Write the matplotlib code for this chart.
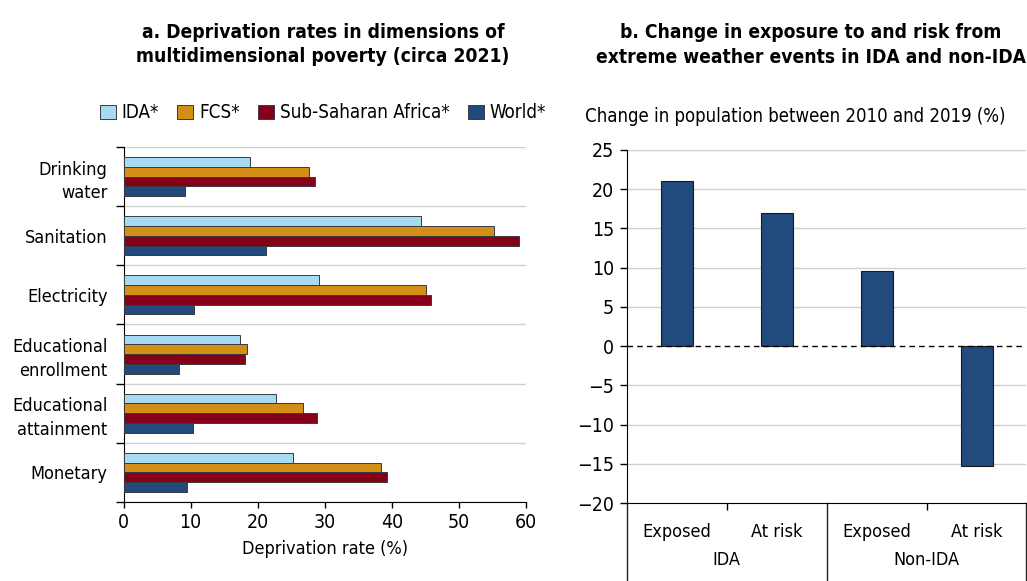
import numpy as np
import matplotlib.pyplot as plt
from matplotlib.patches import Patch
from matplotlib import font_manager

# font stretto se disponibile, altrimenti DejaVu condensed
nomi = {f.name for f in font_manager.fontManager.ttflist}
if 'Liberation Sans Narrow' in nomi:
    plt.rcParams['font.family'] = ['Liberation Sans Narrow', 'DejaVu Sans']
else:
    plt.rcParams['font.family'] = ['DejaVu Sans']
    plt.rcParams['font.stretch'] = 'condensed'

# panel a data
categorie = ['Drinking\nwater', 'Sanitation', 'Electricity',
             'Educational\nenrollment', 'Educational\nattainment', 'Monetary']
ida = [18.9, 44.3, 29.2, 17.4, 22.7, 25.3]
fcs = [27.6, 55.2, 45.1, 18.4, 26.7, 38.3]
ssa = [28.6, 58.9, 45.8, 18.1, 28.8, 39.3]
world = [9.1, 21.2, 10.5, 8.2, 10.3, 9.4]
serie_nomi = ['IDA*', 'FCS*', 'Sub-Saharan Africa*', 'World*']

# panel b data
sotto_cat = ['Exposed', 'At risk', 'Exposed', 'At risk']
gruppi = ['IDA', 'Non-IDA']
variazione = [21.0, 17.0, 9.6, -15.3]

colori = ['#A8D9F3', '#D38E18', '#870019', '#234A7C']
edge = '#3a3a3a'

fig = plt.figure(figsize=(10.27, 5.81), dpi=100)
r = fig.canvas.get_renderer()


def adatta(t, larghezza):
    # scala il font del testo alla larghezza voluta (pixel)
    w = t.get_window_extent(renderer=r).width
    t.set_fontsize(t.get_fontsize() * larghezza / w)


# ---------- panel a ----------
ax1 = fig.add_axes([0.1203, 0.136, 0.392, 0.611])
y = np.arange(len(categorie))
h = 0.165
serie = [ida, fcs, ssa, world]
for k, vals in enumerate(serie):
    ax1.barh(y - 1.5 * h + k * h, vals, height=h, color=colori[k],
             edgecolor=edge, linewidth=0.7, zorder=3)

ax1.set_ylim(len(categorie) - 0.5, -0.5)
ax1.set_xlim(0, 60)
ax1.set_yticks(np.arange(-0.5, len(categorie)), [])
ax1.set_yticks(y, categorie, minor=True)
ax1.tick_params(axis='y', which='minor', length=0, labelsize=13, pad=11.5)
ax1.tick_params(axis='y', which='major', length=5.5, width=1, direction='out')
ax1.set_xticks(np.arange(0, 61, 10))
ax1.tick_params(axis='x', labelsize=14, length=4.5, width=1)
for lab in ax1.get_yticklabels(minor=True):
    lab.set_horizontalalignment('right')
    lab.set_linespacing(1.4)
ax1.grid(axis='y', which='major', color='#d0d0d0', linewidth=1, zorder=0)
ax1.spines['top'].set_visible(False)
ax1.spines['right'].set_visible(False)
ax1.set_xlabel('Deprivation rate (%)', fontsize=13, labelpad=6)

ta = fig.text(323 / 1027, 1 - 44.5 / 581,
              'a. Deprivation rates in dimensions of\nmultidimensional poverty (circa 2021)',
              ha='center', va='center', fontsize=13, fontweight='bold', linespacing=1.35)
adatta(ta, 373)

handles = [Patch(facecolor=colori[k], edgecolor=edge, linewidth=0.7) for k in range(4)]
fig.legend(handles, serie_nomi, loc='center', bbox_to_anchor=(323 / 1027, 1 - 113 / 581),
           ncol=4, frameon=False, fontsize=13.5, handlelength=0.85, handleheight=0.75,
           handletextpad=0.3, columnspacing=1.0, borderpad=0, borderaxespad=0)

# ---------- panel b ----------
ax2 = fig.add_axes([0.6102, 0.134, 0.3893, 0.608])
x = np.arange(len(variazione))
ax2.bar(x, variazione, width=0.32, color=colori[3], edgecolor='#1a1a1a',
        linewidth=0.8, zorder=3)
ax2.set_xlim(-0.5, 3.5)
ax2.set_ylim(-20, 25)
ax2.set_yticks(np.arange(-20, 26, 5))
ax2.set_yticklabels([str(v).replace('-', '\u2212') for v in range(-20, 26, 5)])
ax2.tick_params(axis='y', labelsize=14, length=5, width=1, pad=4)
ax2.set_xticks(x, sotto_cat)
ax2.tick_params(axis='x', labelsize=13, length=0, pad=14)
ax2.set_xticks([0.5, 2.5], minor=True)
ax2.tick_params(axis='x', which='minor', length=5, width=1)
for v in np.arange(-15, 26, 5):
    if v != 0:
        ax2.axhline(v, color='#d0d0d0', linewidth=1, zorder=0)
ax2.axhline(0, color='black', linewidth=1, linestyle=(0, (4, 3)), zorder=4)
ax2.spines['top'].set_visible(False)
ax2.spines['right'].set_visible(False)

trans = ax2.get_xaxis_transform()
for xs in [-0.5, 1.5, 3.5]:
    ax2.plot([xs, xs], [0, -0.23], color='#222222', linewidth=1,
             transform=trans, clip_on=False)
for gx, g in zip([0.5, 2.5], gruppi):
    ax2.text(gx, -0.162, g, transform=trans, ha='center', va='center', fontsize=13)

tb = fig.text(811 / 1027, 1 - 45 / 581,
              'b. Change in exposure to and risk from\nextreme weather events in IDA and non-IDA',
              ha='center', va='center', fontsize=13, fontweight='bold', linespacing=1.35)
adatta(tb, 426)
tl = fig.text(585 / 1027, 1 - 117 / 581, 'Change in population between 2010 and 2019 (%)',
              ha='left', va='center', fontsize=13)
adatta(tl, 422)

plt.savefig('out.png', dpi=100)
